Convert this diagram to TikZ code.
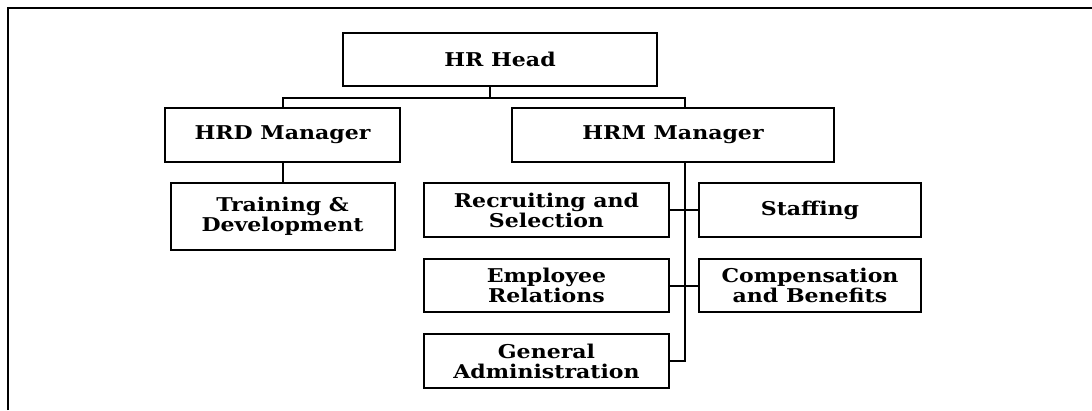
\documentclass[tikz,border=0pt]{standalone}
\usepackage{fontspec}
\setmainfont{DejaVu Serif}[FakeStretch=1.16]
\tikzset{
  unitbox/.style={draw, line width=2pt, align=center, inner sep=0pt,
    font=\bfseries\fontsize{19}{20}\selectfont},
  link/.style={line width=2pt}
}
\begin{document}
\begin{tikzpicture}[x=1pt,y=-1pt]
  \useasboundingbox (0,0) rectangle (1092,410);
  % frame
  \draw[line width=1.8pt] (8,410) -- (8,8) -- (1092,8);
  % boxes
  \node[unitbox, minimum width=314pt, minimum height=53pt] (head) at (500,59.5) {HR Head};
  \node[unitbox, minimum width=235pt, minimum height=54pt] (hrd) at (282.5,135) {HRD Manager};
  \node[unitbox, minimum width=322pt, minimum height=54pt] (hrm) at (673,135) {HRM Manager};
  \node[unitbox, minimum width=224pt, minimum height=67pt] (train) at (282.5,216.5) {Training \&\\Development};
  \node[unitbox, minimum width=245pt, minimum height=54pt] (recr) at (546.5,210) {Recruiting and\\Selection};
  \node[unitbox, minimum width=222pt, minimum height=54pt] (staff) at (810,210) {Staffing};
  \node[unitbox, minimum width=245pt, minimum height=53pt] (empl) at (546.5,285.5) {Employee\\Relations};
  \node[unitbox, minimum width=222pt, minimum height=53pt] (comp) at (810,285.5) {Compensation\\and Benefits};
  \node[unitbox, minimum width=245pt, minimum height=54pt] (genadm) at (546.5,361) {General\\Administration};
  % connectors
  \draw[link] ([xshift=-10pt]head.south) -- ++(0,11) coordinate (bar);
  \draw[link] (hrd.north) |- (bar) -| ([xshift=12pt]hrm.north);
  \draw[link] (hrd) -- (train);
  \draw[link] ([xshift=12pt]hrm.south) |- (genadm.east);
  \draw[link] (recr) -- (staff);
  \draw[link] (empl) -- (comp);
\end{tikzpicture}
\end{document}
